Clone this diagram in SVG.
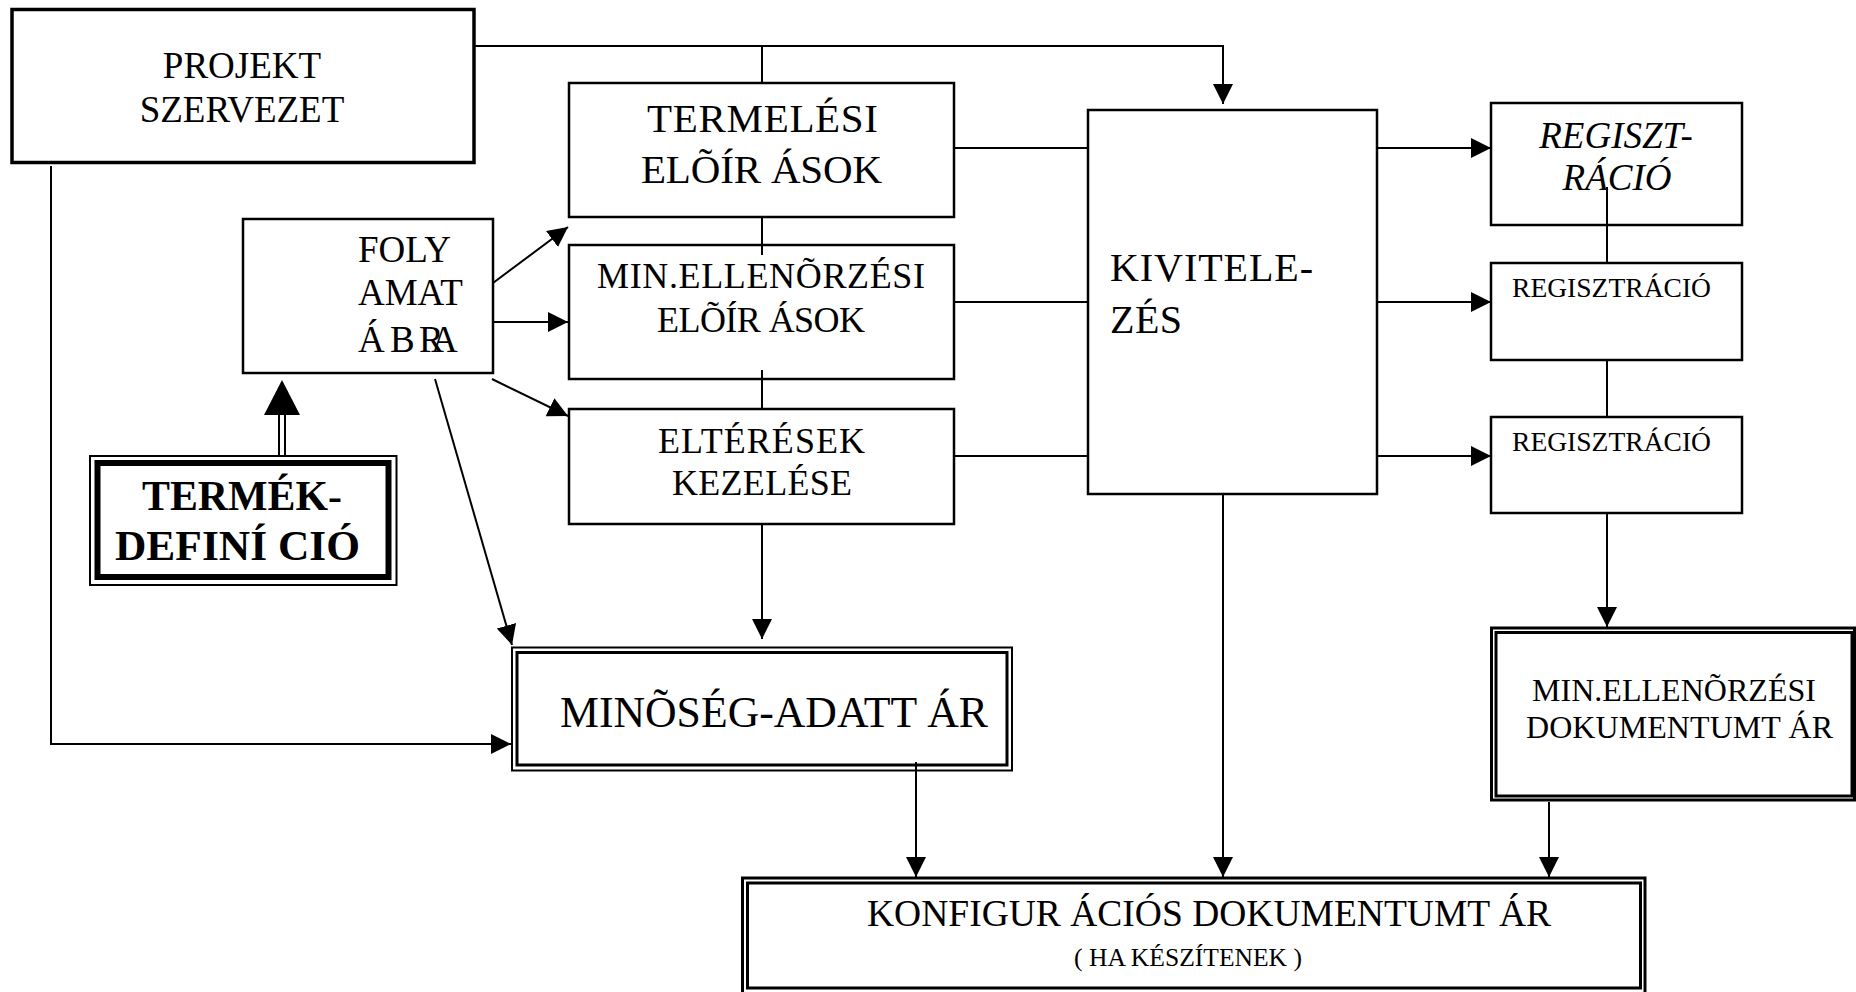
<svg xmlns="http://www.w3.org/2000/svg" width="1856" height="992" viewBox="0 0 1856 992">
  <style>
    .box{fill:none;stroke:#000;stroke-width:2.5}
    .t{font-family:"Liberation Serif","Times New Roman",serif;fill:#000}
    .c{text-anchor:middle}
    .ln{fill:none;stroke:#000;stroke-width:2}
    .arr{marker-end:url(#ah)}
  </style>
  <defs>
    <marker id="ah" markerUnits="userSpaceOnUse" markerWidth="20" markerHeight="20" refX="20" refY="10" orient="auto" viewBox="0 0 20 20">
      <path d="M0,0 L20,10 L0,20 z" fill="#000"/>
    </marker>
  </defs>
  <rect width="1856" height="992" fill="#fff"/>

  <!-- nodes -->
  <g id="projekt-szervezet">
    <rect x="12" y="9.5" width="462" height="153" fill="none" stroke="#000" stroke-width="3.5"/>
    <text class="t c" x="242" y="78" font-size="37">PROJEKT</text>
    <text class="t c" x="242" y="122" font-size="37">SZERVEZET</text>
  </g>

  <g id="folyamatabra">
    <rect class="box" x="243" y="219" width="250" height="154"/>
    <text class="t" x="358" y="262" font-size="37">FOLY</text>
    <text class="t" x="358" y="305" font-size="37">AMAT</text>
    <text class="t" x="358 390 419 431" y="352" font-size="37">ÁBRA</text>
  </g>

  <g id="termekdefinicio">
    <rect x="90" y="456" width="306.5" height="129" fill="none" stroke="#000" stroke-width="2"/>
    <rect x="97.5" y="463" width="291" height="114" fill="none" stroke="#000" stroke-width="6"/>
    <text class="t c" x="242" y="510" font-size="43" font-weight="bold" textLength="200" lengthAdjust="spacingAndGlyphs">TERMÉK-</text>
    <text class="t c" x="237.5" y="560" font-size="43" font-weight="bold" textLength="245" lengthAdjust="spacingAndGlyphs">DEFINÍ CIÓ</text>
  </g>

  <g id="termelesi-eloirasok">
    <rect class="box" x="569" y="83" width="385" height="134"/>
    <text class="t c" x="762.5" y="132" font-size="41" textLength="231">TERMELÉSI</text>
    <text class="t c" x="761.5" y="183" font-size="41" textLength="241">ELÕÍR ÁSOK</text>
  </g>

  <g id="min-ellenorzesi-eloirasok">
    <rect class="box" x="569" y="245" width="385" height="134"/>
    <text class="t c" x="761" y="288" font-size="36" textLength="328">MIN.ELLENÕRZÉSI</text>
    <text class="t c" x="761" y="332" font-size="36" textLength="208">ELÕÍR ÁSOK</text>
  </g>

  <g id="elteresek-kezelese">
    <rect class="box" x="569" y="409" width="385" height="115"/>
    <text class="t c" x="761.5" y="453" font-size="36" textLength="207">ELTÉRÉSEK</text>
    <text class="t c" x="762" y="495" font-size="36" textLength="180">KEZELÉSE</text>
  </g>

  <g id="kivitelezes">
    <rect class="box" x="1088" y="110" width="289" height="384"/>
    <text class="t" x="1110" y="281" font-size="40" textLength="203">KIVITELE-</text>
    <text class="t" x="1110" y="333" font-size="40" textLength="72">ZÉS</text>
  </g>

  <g id="regisztracio-1">
    <rect class="box" x="1491" y="103" width="251" height="122"/>
    <text class="t c" x="1616" y="148" font-size="37" font-style="italic">REGISZT-</text>
    <text class="t c" x="1617" y="190" font-size="37" font-style="italic">RÁCIÓ</text>
  </g>

  <g id="regisztracio-2">
    <rect class="box" x="1491" y="263" width="251" height="97"/>
    <text class="t c" x="1611.5" y="297" font-size="27" textLength="199" lengthAdjust="spacingAndGlyphs">REGISZTRÁCIÓ</text>
  </g>

  <g id="regisztracio-3">
    <rect class="box" x="1491" y="417" width="251" height="96"/>
    <text class="t c" x="1611.5" y="451" font-size="27" textLength="199" lengthAdjust="spacingAndGlyphs">REGISZTRÁCIÓ</text>
  </g>

  <g id="minoseg-adattar">
    <rect x="512" y="647.5" width="500" height="123" fill="none" stroke="#000" stroke-width="2"/>
    <rect x="517" y="652.5" width="490" height="112.5" fill="none" stroke="#000" stroke-width="3"/>
    <text class="t c" x="774" y="727" font-size="45" textLength="428" lengthAdjust="spacingAndGlyphs">MINÕSÉG-ADATT ÁR</text>
  </g>

  <g id="min-ellenorzesi-dokumentumtar">
    <rect x="1491.5" y="628" width="363" height="172" fill="none" stroke="#000" stroke-width="3"/>
    <rect x="1496" y="632.5" width="356" height="163.5" fill="none" stroke="#000" stroke-width="3"/>
    <text class="t c" x="1674" y="701" font-size="32" textLength="284">MIN.ELLENÕRZÉSI</text>
    <text class="t c" x="1679.5" y="738" font-size="32" textLength="307">DOKUMENTUMT ÁR</text>
  </g>

  <g id="konfiguracios-dokumentumtar">
    <rect x="742.5" y="878" width="902.5" height="120" fill="none" stroke="#000" stroke-width="3"/>
    <rect x="747.5" y="883" width="893" height="105" fill="none" stroke="#000" stroke-width="3"/>
    <text class="t c" x="1209" y="926" font-size="37.5" textLength="684">KONFIGUR ÁCIÓS DOKUMENTUMT ÁR</text>
    <text class="t c" x="1188" y="966" font-size="26" textLength="228" lengthAdjust="spacingAndGlyphs">( HA KÉSZÍTENEK )</text>
  </g>

  <!-- connectors -->
  <g id="connectors">
    <!-- projekt szervezet to kivitelezés, with branch to termelési előírások -->
    <path class="ln arr" d="M474,46 H1223 V104"/>
    <path class="ln" d="M762,46 V83"/>
    <!-- projekt szervezet to minőség-adattár -->
    <path class="ln arr" d="M51,166 V744 H511"/>
    <!-- folyamatábra outputs -->
    <path class="ln arr" d="M493,283 L568,227"/>
    <path class="ln arr" d="M493,322 H568"/>
    <path class="ln arr" d="M492,379 L568,416"/>
    <path class="ln arr" d="M435,379 L512,645"/>
    <!-- termékdefiníció to folyamatábra (double shaft) -->
    <path class="ln" d="M279,456 V413 M285,456 V413"/>
    <path d="M264,415 L300,415 L282,380 z" fill="#000"/>
    <!-- spine through the előírás boxes -->
    <path class="ln" d="M762,216 V255 M762,370 V409"/>
    <path class="ln arr" d="M762,523 V639"/>
    <!-- előírás boxes to kivitelezés -->
    <path class="ln" d="M954,148 H1088 M954,302 H1088 M954,456 H1088"/>
    <!-- kivitelezés to regisztráció boxes -->
    <path class="ln arr" d="M1377,148 H1491"/>
    <path class="ln arr" d="M1377,302 H1491"/>
    <path class="ln arr" d="M1377,456 H1491"/>
    <!-- regisztráció chain to dokumentumtár -->
    <path class="ln" d="M1607,187 V263 M1607,360 V417"/>
    <path class="ln arr" d="M1607,513 V627"/>
    <!-- into konfigurációs dokumentumtár -->
    <path class="ln arr" d="M916,762 V877"/>
    <path class="ln arr" d="M1223,494 V877"/>
    <path class="ln arr" d="M1549,802 V877"/>
  </g>
</svg>
